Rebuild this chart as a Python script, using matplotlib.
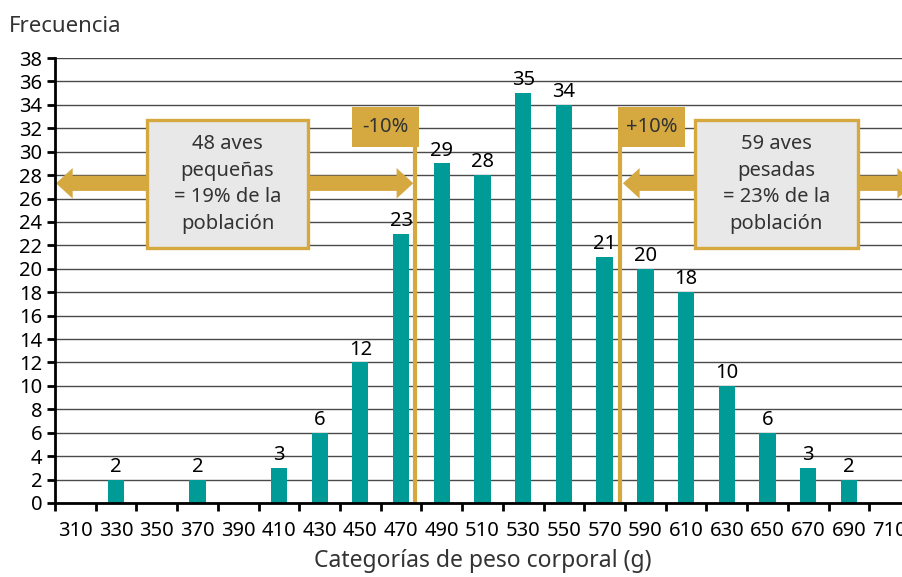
import matplotlib.pyplot as plt
from matplotlib.patches import FancyArrowPatch, Rectangle

# categorías de peso (g) y frecuencias
categorias = [310, 330, 350, 370, 390, 410, 430, 450, 470, 490, 510,
              530, 550, 570, 590, 610, 630, 650, 670, 690, 710]
pesos = [330, 370, 410, 430, 450, 470, 490, 510, 530, 550, 570,
         590, 610, 630, 650, 670, 690]
frecuencia = [2, 2, 3, 6, 12, 23, 29, 28, 35, 34, 21, 20, 18, 10, 6, 3, 2]
y_ticks = list(range(0, 39, 2))

teal = '#009a97'
gold = '#d5a940'
txt = '#333333'
fs = 14.5

plt.rcParams['font.family'] = ['Noto Sans', 'DejaVu Sans']

fig = plt.figure(figsize=(9.03, 5.77), dpi=100)
ax = fig.add_axes([55 / 903, 74 / 577, 855 / 903, 445 / 577])

bars = ax.bar(pesos, frecuencia, width=8, color=teal, zorder=2)
ax.bar_label(bars, padding=2, fontsize=fs, color='black')

ax.set_xlim(300, 720)
ax.set_ylim(0, 38)
ax.set_yticks(y_ticks)
ax.set_yticklabels([str(v) for v in y_ticks], fontsize=fs)
ax.set_xticks([c - 10 for c in categorias])
ax.set_xticklabels([])
ax.set_xticks(categorias, minor=True)
ax.set_xticklabels([str(c) for c in categorias], minor=True, fontsize=fs)
ax.tick_params(axis='x', which='minor', length=0, pad=13)
ax.tick_params(axis='both', which='major', length=6, width=2, color='black')
ax.tick_params(axis='y', pad=3)

ax.grid(axis='y', color='#4a4a4a', linewidth=1, zorder=0)
ax.set_axisbelow(True)
for s in ['top', 'right']:
    ax.spines[s].set_visible(False)
for s in ['left', 'bottom']:
    ax.spines[s].set_linewidth(2)
    ax.spines[s].set_zorder(5)

fig.text(9 / 903, 1 - 27 / 577, 'Frecuencia', fontsize=16, color=txt, va='center')
ax.set_xlabel('Categorías de peso corporal (g)', fontsize=16.5, color=txt, labelpad=6)

# líneas de -10% y +10%
lim_inf, lim_sup = 477, 577.5
y_arrow = 27.3
for xl in [lim_inf, lim_sup]:
    ax.plot([xl, xl], [0, 31], color=gold, lw=3, zorder=4, solid_capstyle='butt')

style = 'simple,head_length=12,head_width=22,tail_width=11'


def flecha(x0, x1):
    ax.add_patch(FancyArrowPatch((x0, y_arrow), (x1, y_arrow), arrowstyle=style,
                                 color=gold, lw=0, zorder=3, clip_on=False,
                                 shrinkA=0, shrinkB=0))


mid_l = (300 + lim_inf) / 2
flecha(mid_l, 300.5)
flecha(mid_l, lim_inf - 1)
mid_r = (lim_sup + 720) / 2
flecha(mid_r, lim_sup + 1.5)
flecha(mid_r, 722)

# cuadros de texto
for (x0, x1), texto in [((345.2, 424.3), '48 aves\npequeñas\n= 19% de la\npoblación'),
                        ((614.3, 694.4), '59 aves\npesadas\n= 23% de la\npoblación')]:
    ax.add_patch(Rectangle((x0, 21.8), x1 - x0, 10.9, facecolor='#e8e8e8',
                           edgecolor=gold, lw=2.4, zorder=6))
    ax.text((x0 + x1) / 2, 27.25, texto, ha='center', va='center', fontsize=fs,
            color=txt, linespacing=1.45, zorder=7)

for (x0, x1), texto in [((445.9, 478.6), '-10%'), ((576.4, 609.4), '+10%')]:
    ax.add_patch(Rectangle((x0, 30.4), x1 - x0, 3.4, facecolor=gold,
                           edgecolor='none', zorder=6))
    ax.text((x0 + x1) / 2, 32.1, texto, ha='center', va='center', fontsize=fs,
            color=txt, zorder=7)

fig.savefig('out.png', dpi=100)
